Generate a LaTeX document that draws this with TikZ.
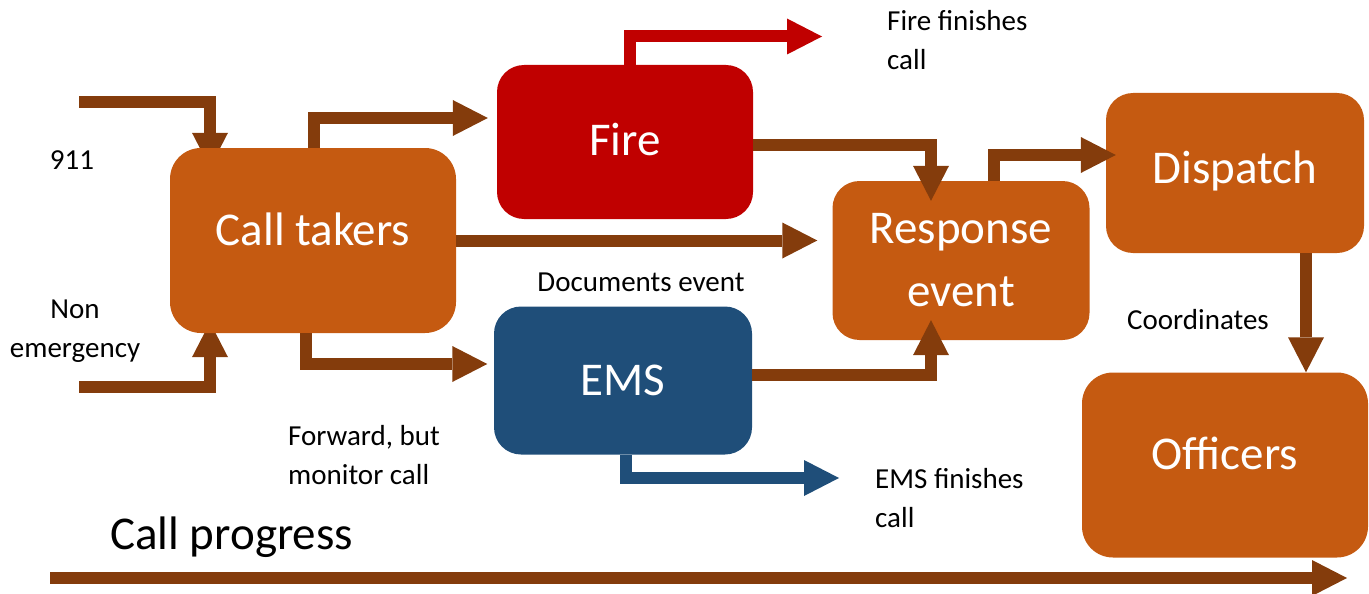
\documentclass[tikz,border=0pt]{standalone}
\usepackage{fontspec}
\setmainfont{Carlito}
\usetikzlibrary{arrows.meta}
\definecolor{boxor}{HTML}{C55A11}
\definecolor{arrbr}{HTML}{843C0C}
\definecolor{firered}{HTML}{C00000}
\definecolor{emsblue}{HTML}{1F4E79}
\pgfdeclarelayer{bg}
\pgfsetlayers{bg,main}
\begin{document}
\begin{tikzpicture}[x=1pt,y=-1pt,
  blk/.style={fill=#1, draw=none, rounded corners=27pt, text=white,
    font=\fontsize{47}{63}\selectfont, inner sep=0pt},
  blk/.default=boxor,
  one/.style={text height=30pt, text depth=#1},
  barrow/.style={draw=#1, line width=12pt, line join=miter,
    -{Triangle[length=35pt,width=36pt,line width=0pt]}},
  barrow/.default=arrbr,
  lbl/.style={font=\fontsize{29}{39}\selectfont, inner sep=0pt, text=black},
]
\useasboundingbox (0,0) rectangle (1369,594);

% boxes
\node[blk, one=20pt, minimum width=286pt, minimum height=185pt, rounded corners=31pt] (ct) at (313,240.5) {Call takers};
\node[blk=firered, one=4pt, minimum width=256pt, minimum height=154pt] (fire) at (625,142) {Fire};
\node[blk=emsblue, one=0pt, minimum width=258pt, minimum height=148pt] (ems) at (623,380.5) {EMS};
\node[blk, align=center, minimum width=257pt, minimum height=159pt] (resp) at (961,260.5) {Response\\event};
\node[blk, one=10pt, minimum width=258pt, minimum height=160pt] (disp) at (1235,173) {Dispatch};
\node[blk, one=22pt, minimum width=286pt, minimum height=185pt, rounded corners=31pt] (off) at (1225,465) {Officers};

% labels (base anchor of multi-line text = last line's baseline)
\node[lbl, anchor=base] (t911) at (72,169) {911};
\node[lbl, align=center, anchor=base] (tnon) at (75,357) {Non\\emergency};
\node[lbl, align=left, anchor=base west] (tfire) at (887,70) {Fire finishes\\call};
\node[lbl, anchor=base] (tdoc) at (641,291) {Documents event};
\node[lbl, align=left, anchor=base west] (tfwd) at (288,484) {Forward, but\\monitor call};
\node[lbl, align=left, anchor=base west] (tems) at (875,527) {EMS finishes\\call};
\node[lbl, anchor=base] (tcoord) at (1198,329) {Coordinates};
\node[font=\fontsize{47}{58}\selectfont, inner sep=0pt, anchor=base west] (tprog) at (110,549) {Call progress};

% free ends
\coordinate (in911) at (79,102);
\coordinate (innon) at (79,387);
\coordinate (firefin) at (822,36.5);
\coordinate (emsfin) at (839,478);
\coordinate (progs) at (50,578);
\coordinate (proge) at (1347,578);

% inputs behind the call takers box
\begin{pgfonlayer}{bg}
\draw[barrow] (in911) -| ([xshift=-103pt,yshift=-20pt]ct.north);
\draw[barrow] (innon) -| ([xshift=-103pt,yshift=11pt]ct.south);
\end{pgfonlayer}

% connectors
\draw[barrow] ([xshift=1pt]ct.north) |- ([xshift=-9pt,yshift=24pt]fire.west);
\draw[barrow] ([xshift=-7pt]ct.south) |- ([xshift=-6.5pt,yshift=16.5pt]ems.west);
\draw[barrow] (ct.east) -- ([xshift=-15pt]resp.west |- ct.east);
\draw[barrow] ([yshift=-3pt]fire.east) -| ([xshift=-30pt,yshift=-20pt]resp.north);
\draw[barrow] ([yshift=5.5pt]ems.east) -| ([xshift=-30pt,yshift=20pt]resp.south);
\draw[barrow] ([xshift=33pt]resp.north) |- ([xshift=10pt,yshift=18pt]disp.west);
\draw[barrow] ([xshift=71pt]disp.south) -- ([xshift=81pt]off.north);
\draw[barrow=firered] ([xshift=5pt]fire.north) |- (firefin);
\draw[barrow=emsblue] ([xshift=3pt]ems.south) |- (emsfin);
\draw[barrow] (progs) -- (proge);
\end{tikzpicture}
\end{document}
